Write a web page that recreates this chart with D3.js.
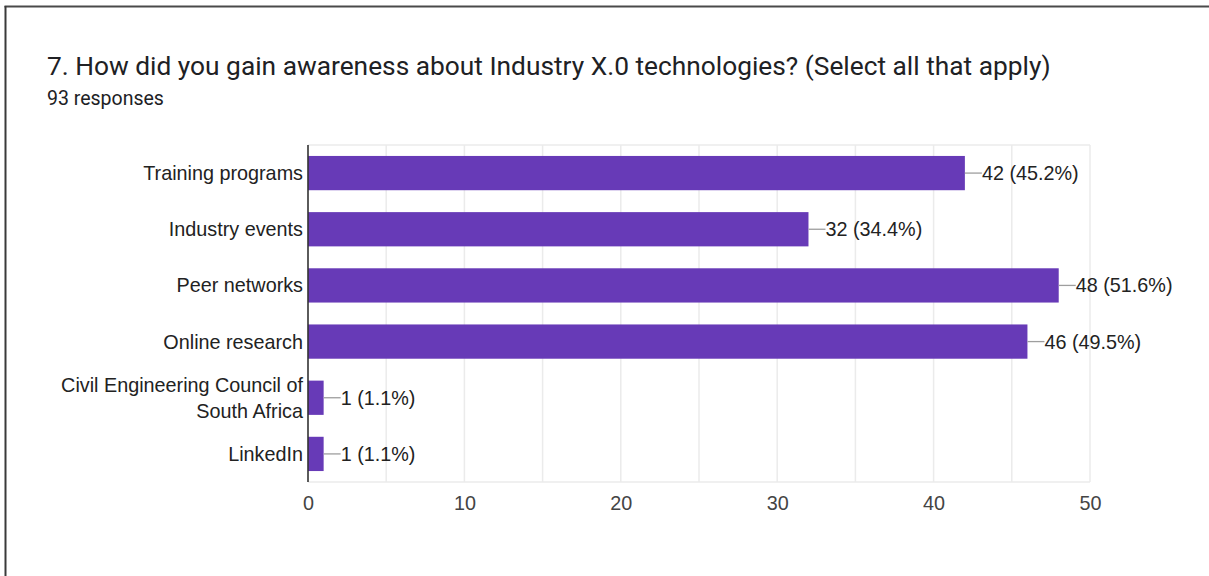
<!DOCTYPE html>
<html>
<head>
<meta charset="utf-8">
<script src="https://cdn.jsdelivr.net/npm/d3@7"></script>
<style>
  html, body { margin: 0; padding: 0; background: #fff; overflow: hidden; }
  svg { display: block; }
</style>
</head>
<body>
<svg id="chart" width="1209" height="576"></svg>
<script>
// Survey question and answer counts
const title = "7. How did you gain awareness about Industry X.0 technologies? (Select all that apply)";
const subtitle = "93 responses";
const categories = [
  "Training programs",
  "Industry events",
  "Peer networks",
  "Online research",
  "Civil Engineering Council of South Africa",
  "LinkedIn"
];
const categoryLines = [
  ["Training programs"],
  ["Industry events"],
  ["Peer networks"],
  ["Online research"],
  ["Civil Engineering Council of", "South Africa"],
  ["LinkedIn"]
];
const counts = [42, 32, 48, 46, 1, 1];
const percentLabels = ["45.2%", "34.4%", "51.6%", "49.5%", "1.1%", "1.1%"];
const xTicks = [0, 10, 20, 30, 40, 50];
const gridValues = [5, 10, 15, 20, 25, 30, 35, 40, 45, 50];

const svg = d3.select("#chart");
const labelFont = "Arial, 'Liberation Sans', sans-serif";
const labelSize = 19.8;

// Card frame: only the top and left edges fall inside the view
svg.append("line")
  .attr("x1", 4.5).attr("x2", 1209)
  .attr("y1", 6.5).attr("y2", 6.5)
  .attr("stroke", "#4a4a4a").attr("stroke-width", 2);
svg.append("line")
  .attr("x1", 5.5).attr("x2", 5.5)
  .attr("y1", 6).attr("y2", 576)
  .attr("stroke", "#3a3a3a").attr("stroke-width", 2);

// Heading
svg.append("text")
  .attr("x", 47).attr("y", 74.5)
  .attr("font-family", "Roboto, sans-serif")
  .attr("font-size", 26.3)
  .attr("fill", "#202124")
  .text(title);

svg.append("text")
  .attr("x", 47).attr("y", 105)
  .attr("font-family", "Roboto, sans-serif")
  .attr("font-size", 19.5)
  .attr("fill", "#202124")
  .text(subtitle);

// Plot geometry
const plot = { left: 308, right: 1090, top: 145, bottom: 482 };

const x = d3.scaleLinear().domain([0, 50]).range([plot.left, plot.right]);
const y = d3.scaleBand()
  .domain(categories)
  .range([plot.top, plot.bottom])
  .paddingInner(0.39)
  .paddingOuter(0.195);

const data = categories.map((c, i) => ({
  category: c,
  lines: categoryLines[i],
  count: counts[i],
  pct: percentLabels[i]
}));

// Grid
const grid = svg.append("g");
grid.selectAll("line.v")
  .data(gridValues)
  .join("line")
  .attr("class", "v")
  .attr("x1", d => x(d)).attr("x2", d => x(d))
  .attr("y1", plot.top).attr("y2", plot.bottom)
  .attr("stroke", "#ebebeb").attr("stroke-width", 1.5);
grid.selectAll("line.h")
  .data([plot.top, plot.bottom])
  .join("line")
  .attr("class", "h")
  .attr("x1", plot.left).attr("x2", x(50))
  .attr("y1", d => d).attr("y2", d => d)
  .attr("stroke", "#ebebeb").attr("stroke-width", 1.5);

// Bottom axis tick labels
const xAxis = d3.axisBottom(x).tickValues(xTicks).tickSize(0).tickPadding(0);
const xAxisG = svg.append("g")
  .attr("transform", `translate(0,${plot.bottom})`)
  .call(xAxis);
xAxisG.select(".domain").remove();
xAxisG.selectAll("text")
  .attr("dy", null)
  .attr("y", 28)
  .attr("font-family", labelFont)
  .attr("font-size", labelSize)
  .attr("fill", "#444");

// Bars
svg.append("g").selectAll("rect")
  .data(data)
  .join("rect")
  .attr("x", x(0))
  .attr("y", d => y(d.category))
  .attr("width", d => x(d.count) - x(0))
  .attr("height", y.bandwidth())
  .attr("fill", "#673ab7");

// Value annotations with leader lines
const ann = svg.append("g").selectAll("g")
  .data(data)
  .join("g")
  .attr("transform", d => `translate(${x(d.count)},${y(d.category) + y.bandwidth() / 2})`);
ann.append("line")
  .attr("x1", 0).attr("x2", 17)
  .attr("y1", 0).attr("y2", 0)
  .attr("stroke", "#9e9e9e").attr("stroke-width", 1.3);
ann.append("text")
  .attr("x", 17).attr("y", 0).attr("dy", "0.35em")
  .attr("font-family", labelFont)
  .attr("font-size", labelSize)
  .attr("fill", "#222")
  .text(d => `${d.count} (${d.pct})`);

// Category labels
const lineHeight = 26;
const catLabels = svg.append("g").selectAll("text")
  .data(data)
  .join("text")
  .attr("text-anchor", "end")
  .attr("font-family", labelFont)
  .attr("font-size", labelSize)
  .attr("fill", "#222");
catLabels.each(function (d) {
  const cy = y(d.category) + y.bandwidth() / 2;
  const n = d.lines.length;
  d3.select(this).selectAll("tspan")
    .data(d.lines)
    .join("tspan")
    .attr("x", plot.left - 5)
    .attr("y", (_, i) => cy + 7 + (i - (n - 1) / 2) * lineHeight)
    .text(t => t);
});

// Vertical baseline axis
svg.append("line")
  .attr("x1", x(0)).attr("x2", x(0))
  .attr("y1", plot.top).attr("y2", plot.bottom)
  .attr("stroke", "#333").attr("stroke-width", 1.6);
</script>
</body>
</html>
